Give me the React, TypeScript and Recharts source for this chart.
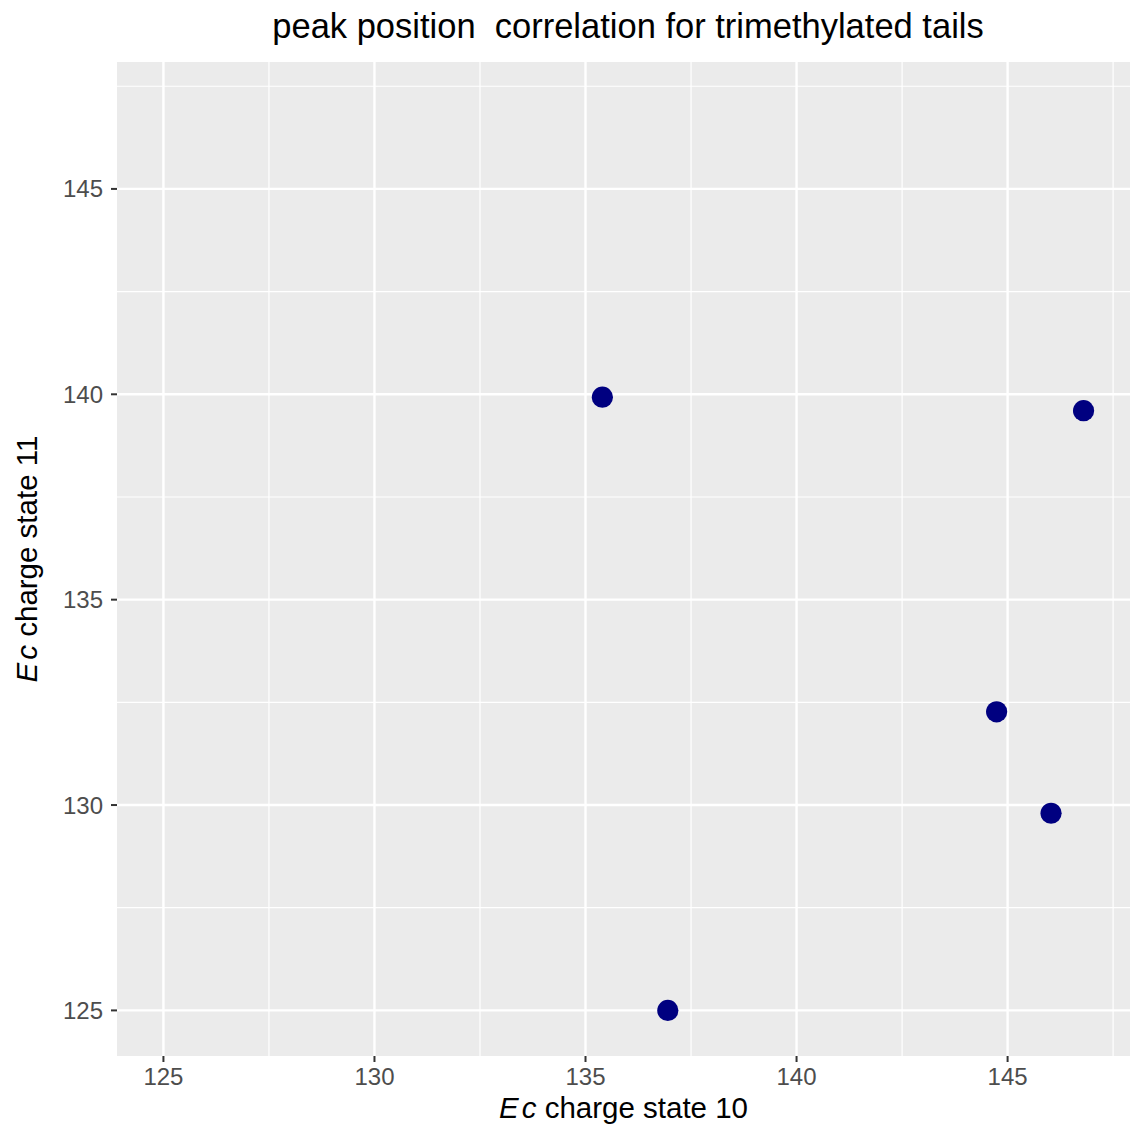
import React from 'react'
import {
  ScatterChart,
  Scatter,
  XAxis,
  YAxis,
  CartesianGrid,
  Customized,
} from 'recharts'

// Ec peak positions, charge state 10 vs 11
const chargeState10 = [135.4, 146.8, 144.74, 146.03, 136.95]
const chargeState11 = [139.93, 139.6, 132.27, 129.8, 125.0]

const majorTicks = [125, 130, 135, 140, 145]
const minorTicks = [127.5, 132.5, 137.5, 142.5, 147.5]

const xDomain = [123.9, 147.9]
const yDomain = [123.89, 148.09]

const FONT = '"Liberation Sans", Arial, Helvetica, sans-serif'
const W = 1130
const H = 1131

const points = chargeState10.map((x, i) => ({ x, y: chargeState11[i] }))

function Dot(props: any) {
  const { cx, cy } = props
  return <circle cx={cx} cy={cy} r={10.6} fill="#000080" />
}

function Title() {
  return (
    <text
      x={628}
      y={38}
      textAnchor="middle"
      fontFamily={FONT}
      fontSize={34.5}
      fill="#000"
      style={{ whiteSpace: 'pre' }}
    >
      {'peak position  correlation for trimethylated tails'}
    </text>
  )
}

function XTitle(props: any) {
  const vb = props.viewBox
  const cx = vb.x + vb.width / 2
  return (
    <text x={cx} y={vb.y + 62} textAnchor="middle" fontFamily={FONT} fontSize={29.5} fill="#000">
      <tspan fontStyle="italic">E</tspan>
      <tspan fontStyle="italic" dx={3}>c</tspan>
      <tspan>{' charge state 10'}</tspan>
    </text>
  )
}

function YTitle(props: any) {
  const vb = props.viewBox
  const cy = vb.y + vb.height / 2
  const x = 37
  return (
    <text
      x={x}
      y={cy}
      textAnchor="middle"
      transform={`rotate(-90, ${x}, ${cy})`}
      fontFamily={FONT}
      fontSize={29.5}
      fill="#000"
    >
      <tspan fontStyle="italic">E</tspan>
      <tspan fontStyle="italic" dx={3}>c</tspan>
      <tspan>{' charge state 11'}</tspan>
    </text>
  )
}

const tickStyle = { fill: '#4D4D4D', fontSize: 24, fontFamily: FONT }
const tickLineStyle = { stroke: '#333333', strokeWidth: 2 }

export default function App() {
  return (
    <div style={{ position: 'absolute', left: 0, top: 0, background: '#fff' }}>
      <ScatterChart width={W} height={H} margin={{ top: 62, right: 0, bottom: 0, left: 0 }}>
        <CartesianGrid
          fill="#EBEBEB"
          stroke="#FFFFFF"
          strokeWidth={1.2}
          verticalValues={minorTicks}
          horizontalValues={minorTicks}
        />
        <CartesianGrid
          fill="none"
          stroke="#FFFFFF"
          strokeWidth={2.4}
          verticalValues={majorTicks}
          horizontalValues={majorTicks}
        />
        <XAxis
          type="number"
          dataKey="x"
          domain={xDomain}
          ticks={majorTicks}
          allowDataOverflow
          axisLine={false}
          tickLine={tickLineStyle}
          tickSize={6}
          tickMargin={6}
          tick={tickStyle}
          height={75}
          label={<XTitle />}
        />
        <YAxis
          type="number"
          dataKey="y"
          domain={yDomain}
          ticks={majorTicks}
          allowDataOverflow
          axisLine={false}
          tickLine={tickLineStyle}
          tickSize={6}
          tickMargin={8}
          tick={tickStyle}
          width={117}
          label={<YTitle />}
        />
        <Scatter data={points} shape={<Dot />} isAnimationActive={false} />
        <Customized component={<Title />} />
      </ScatterChart>
    </div>
  )
}
